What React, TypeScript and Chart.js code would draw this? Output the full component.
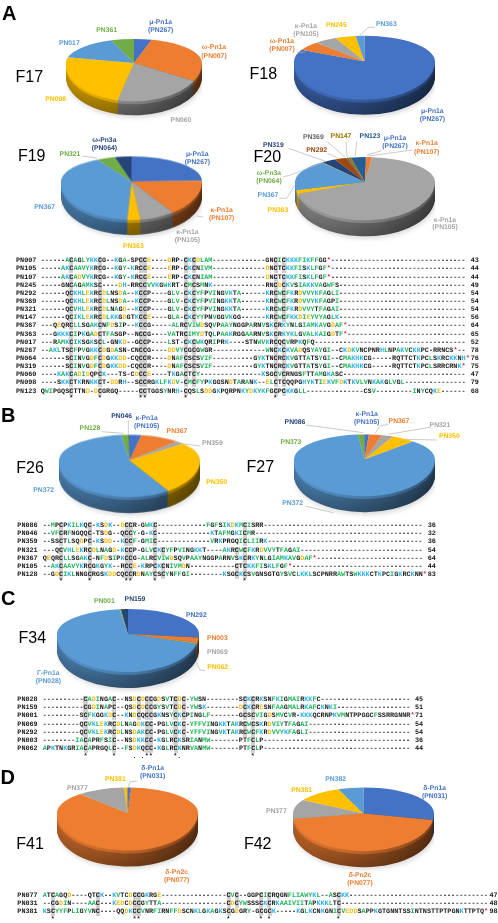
import React, { useEffect, useRef } from "react";
import { Chart, registerables } from "chart.js";

Chart.register(...registerables);

const BLUE = "#4472C4", ORANGE = "#ED7D31", GRAY = "#A5A5A5", GOLD = "#FFC000", SKY = "#5B9BD5", GREEN = "#70AD47";
const NAVY = "#264478", BROWN = "#9E480E", DGRAY = "#636363", DGOLD = "#997300", STEEL = "#255E91";

const f17Labels = ["PN267", "PN007", "PN060", "PN098", "PN017", "PN361"];
const f17Values = [4.2, 28.6, 21.1, 24.9, 15.8, 5.4];
const f17Colors = [BLUE, ORANGE, GRAY, GOLD, SKY, GREEN];

const f18Labels = ["PN267", "PN007", "PN105", "PN245", "PN363"];
const f18Values = [82.5, 5.6, 5.2, 4.7, 2];
const f18Colors = [BLUE, ORANGE, GRAY, GOLD, SKY];

const f19Labels = ["PN267", "PN107", "PN105", "PN363", "PN367", "PN321", "PN064"];
const f19Values = [24.5, 15.5, 8, 3, 41, 4.2, 3.8];
const f19Colors = [BLUE, ORANGE, GRAY, GOLD, SKY, GREEN, NAVY];

const f20Labels = ["PN267", "PN107", "PN105", "PN363", "PN367", "PN064", "PN319", "PN292", "PN369", "PN147", "PN123"];
const f20Values = [0.3, 1.3, 68, 1.5, 17.5, 0.3, 3.3, 2.7, 0.5, 0.6, 3.2];
const f20Colors = [BLUE, ORANGE, GRAY, GOLD, SKY, GREEN, NAVY, BROWN, DGRAY, DGOLD, STEEL];

const f26Labels = ["PN105", "PN367", "PN359", "PN350", "PN372", "PN128", "PN046"];
const f26Values = [2.7, 9, 2, 27, 57.4, 1.7, 0.2];
const f26Colors = [BLUE, ORANGE, GRAY, GOLD, SKY, GREEN, NAVY];

const f27Labels = ["PN105", "PN367", "PN321", "PN350", "PN372", "PN373", "PN086"];
const f27Values = [1, 3, 2.6, 5.5, 86.4, 1.4, 0.1];
const f27Colors = [BLUE, ORANGE, GRAY, GOLD, SKY, GREEN, NAVY];

const f34Labels = ["PN292", "PN003", "PN069", "PN062", "PN028", "PN001", "PN159"];
const f34Values = [26.5, 2, 0.3, 0.3, 69, 0.3, 1.6];
const f34Colors = [BLUE, ORANGE, GRAY, GOLD, SKY, GREEN, NAVY];

const f41Labels = ["PN031", "PN077", "PN377", "PN381"];
const f41Values = [0.8, 87.5, 10.9, 0.8];
const f41Colors = [BLUE, ORANGE, GRAY, GOLD];

const f42Labels = ["PN031", "PN077", "PN377", "PN381", "PN382"];
const f42Values = [27.8, 45, 10.8, 10.6, 5.8];
const f42Colors = [BLUE, ORANGE, GRAY, GOLD, SKY];

// cx, apex y, top y, face bottom y, radius, depth
const PIES: any[] = [
  { labels: f17Labels, values: f17Values, colors: f17Colors, cx: 134, cy: 62.7, top: 38.7, bot: 101, r: 68, d: 14 },
  { labels: f18Labels, values: f18Values, colors: f18Colors, cx: 364.7, cy: 61.7, top: 36, bot: 100, r: 70.5, d: 15 },
  { labels: f19Labels, values: f19Values, colors: f19Colors, cx: 131.7, cy: 181.7, top: 156.7, bot: 220, r: 70.3, d: 15 },
  { labels: f20Labels, values: f20Values, colors: f20Colors, cx: 364.5, cy: 181.7, top: 156.7, bot: 220, r: 70, d: 16 },
  { labels: f26Labels, values: f26Values, colors: f26Colors, cx: 129.5, cy: 460.7, top: 435, bot: 497, r: 70.3, d: 16 },
  { labels: f27Labels, values: f27Values, colors: f27Colors, cx: 364, cy: 459.3, top: 434.3, bot: 496, r: 70.5, d: 16 },
  { labels: f34Labels, values: f34Values, colors: f34Colors, cx: 128, cy: 634, top: 609, bot: 672, r: 71, d: 16 },
  { labels: f41Labels, values: f41Values, colors: f41Colors, cx: 127.5, cy: 813.3, top: 787.7, bot: 851, r: 70.2, d: 16 },
  { labels: f42Labels, values: f42Values, colors: f42Colors, cx: 363.8, cy: 813.3, top: 787.3, bot: 851, r: 70.5, d: 16 },
];

const LABELS: [string, number, number, string][] = [
  ["μ-Pn1a", 160.7, 22.7, BLUE], ["(PN267)", 160.7, 30.7, BLUE], ["ω-Pn1a", 214, 48.3, ORANGE], ["(PN007)", 214, 56.7, ORANGE],
  ["PN361", 106.7, 30.7, GREEN], ["PN017", 69.3, 43.7, SKY], ["PN098", 55.7, 100, GOLD], ["PN060", 181, 120.7, GRAY],
  ["κ-Pn1a", 306, 26.7, GRAY], ["(PN105)", 306, 34.7, GRAY], ["PN245", 336.3, 25.7, GOLD], ["PN363", 386.3, 24.7, SKY],
  ["ω-Pn1a", 282, 42.3, ORANGE], ["(PN007)", 282, 50, ORANGE], ["μ-Pn1a", 432.3, 111.7, BLUE], ["(PN267)", 432.3, 120, BLUE],
  ["ω-Pn3a", 104.3, 140.7, NAVY], ["(PN064)", 104.3, 149, NAVY], ["PN321", 70, 154.7, GREEN], ["μ-Pn1a", 197.3, 155, BLUE], ["(PN267)", 197.3, 163.3, BLUE],
  ["κ-Pn1a", 221.7, 210.7, ORANGE], ["(PN107)", 221.7, 219, ORANGE], ["κ-Pn1a", 187.3, 232.7, GRAY], ["(PN105)", 187.3, 241, GRAY],
  ["PN363", 133.3, 247.3, GOLD], ["PN367", 44.7, 208, SKY],
  ["PN319", 273.3, 145.7, NAVY], ["PN369", 313.3, 138.3, DGRAY], ["PN147", 341, 137.3, DGOLD], ["PN123", 370, 137.3, STEEL],
  ["μ-Pn1a", 395, 139, BLUE], ["(PN267)", 395, 147.3, BLUE], ["κ-Pn1a", 426.7, 144.3, ORANGE], ["(PN107)", 426.7, 152.7, ORANGE],
  ["PN292", 316.7, 151, BROWN], ["ω-Pn3a", 269, 174, GREEN], ["(PN064)", 269, 182.3, GREEN], ["PN367", 268, 196, SKY], ["PN363", 278, 211.3, GOLD],
  ["κ-Pn1a", 445, 220.7, GRAY], ["(PN105)", 445, 228.3, GRAY],
  ["PN046", 121.7, 416.7, NAVY], ["κ-Pn1a", 146.7, 419.3, BLUE], ["(PN105)", 146.7, 427.3, BLUE], ["PN128", 90, 429.3, GREEN], ["PN367", 177, 431.7, ORANGE],
  ["PN359", 212.3, 443.7, GRAY], ["PN350", 216.7, 482.7, GOLD], ["PN372", 43.7, 490.7, SKY],
  ["PN086", 295, 423, NAVY], ["κ-Pn1a", 366.7, 414.7, BLUE], ["(PN105)", 366.7, 422.7, BLUE], ["PN367", 399, 422.3, ORANGE], ["PN321", 440, 425.7, GRAY],
  ["PN350", 449.3, 437.3, GOLD], ["PN373", 291, 443.3, GREEN], ["PN372", 292.7, 504.3, SKY],
  ["PN001", 104.3, 602.3, GREEN], ["PN159", 135, 600, NAVY], ["PN292", 196.3, 615.7, BLUE], ["PN003", 217.3, 638.7, ORANGE], ["PN069", 217.3, 652.7, GRAY],
  ["PN062", 217.7, 667.7, GOLD], ["Γ-Pn1a", 48.3, 674, SKY], ["(PN028)", 48.3, 682, SKY],
  ["PN381", 115.3, 780, GOLD], ["δ-Pn1a", 152.7, 769, BLUE], ["(PN031)", 152.7, 777, BLUE], ["PN377", 77.3, 789, GRAY], ["δ-Pn2c", 176.7, 873.3, ORANGE], ["(PN077)", 176.7, 881.3, ORANGE],
  ["PN382", 335.7, 780, SKY], ["δ-Pn1a", 434.7, 789, BLUE], ["(PN031)", 434.7, 797, BLUE], ["PN381", 301.7, 790.7, GOLD], ["PN377", 276.3, 812, GRAY],
  ["δ-Pn2c", 360, 876, ORANGE], ["(PN077)", 360, 884.3, ORANGE],
];

const FIG_TITLES: [string, number, number][] = [
  ["F17", 29.3, 76.7], ["F18", 263.3, 74], ["F19", 31.7, 155.7], ["F20", 267.3, 156.7], ["F26", 30, 468.3],
  ["F27", 260.3, 467.3], ["F34", 32.3, 638.3], ["F41", 30, 844.3], ["F42", 257.7, 844.3],
];
const PANELS: [string, number, number][] = [["A", 9.3, 12.5], ["B", 8.3, 415], ["C", 8.3, 598.3], ["D", 7.8, 776.7]];

const LEADERS: string[] = [
  "360,35 368,27.7 375,27", "296.7,52.3 305,52.3", "82.7,156 97,158", "196.7,216 203.3,217",
  "288.3,148.3 326.7,161.7", "327.3,141.7 345,157", "346,141.7 347,156.7", "356.7,141.7 355.3,156", "381.7,150.7 366.7,155",
  "412.3,150 368.3,156", "327.3,153.3 338.3,158.3", "283.3,176.7 288.3,175.7 321.7,163.3", "279.3,198.3 286.7,198.3 295,185",
  "128.3,420 128.3,435", "101.7,431.7 123.3,433.3", "180,443.3 200,446",
  "306,425 363.3,432.7", "388.3,424.3 380,426 375,433.3", "430,427.3 388.3,434.3", "436.7,440 405,439.3", "305,506 333.3,512.7",
  "196.7,663.3 200,670 205,670.7", "136.7,781 130,781.7 128.3,787.7",
];

const blockANames = ["PN007", "PN105", "PN107", "PN245", "PN292", "PN369", "PN321", "PN147", "PN367", "PN363", "PN017", "PN267", "PN064", "PN319", "PN060", "PN098", "PN123"];
const blockASeqs = [
  "------ACAGLYKKCG--KGA-SPCCE----DRP-CKCDLAM-------------GNCICKKKFIKFFGG*",
  "-----AKCAAVYKRCG--KGY-KRCCE----ERP-CKCNIVM-------------DNCTCKKFISKLFGF*",
  "-----AKCADVYKRCG--KGY-KRCCE----ERP-CKCNIAM-------------DNCTCKKFISKLFGF*",
  "-----GNCAGAMKSC----DH-RRCCVVKGWKRT-CMCSMNK-------------RNCDCKVSIAKKVAGWFS",
  "------QCKHLEKRCDLNSDA--KCCP----GLV-CKCYFPVINGVKTA------KRCWCFKRDVVYKFAGLI",
  "------QCKHLEKRCDLNSDA--KCCP----GLV-CKCYFPVINGKKTA------KRCWCFKRDVVYKFAGPI",
  "------QCVHLEKRCDLNAGD--KCCP----GLV-CKCYFPVINGKKTA------KRCWCFKRDVVYTFAGAI",
  "------QCIKLEKRCDLKKGDGTKCCE----GLA-CKCYYPNVGGVKGG------KRCWCFKKDIEYVYAGLK",
  "---QEQRCLLSGAKCNFDSIP--KCCG-----ALRCVIWDSQVPAAYNGGPARNVSKCRKYNLGIAMKAVGDAF*",
  "---GKKKCIPKGADCTFASGP--NCCG----VATRCIMYDTQLPAAKRGGAARNVSKCRKYKLGVALKAIGDTF*",
  "---RAMKCIKSGKSCL-GNKD--GCCP----LST-CKCWKQRIPRK----STNWVKRCQCVRPKQFQ",
  "--AKLTSCFPVGKKCDGDASN-CNCCG----DDVYCGCGWGR-------------WNCKCKVADQSYAYGI--CKDKVNCPNRHLNPAKVCKKPC-RRNCS*",
  "------SCINVGDFCDGKKDD-CQCCR----DNAFCSCSVIF----------GYKTNCRCKVGTTATSYGI--CMAKHKCG-----RQTTCTKPCLSKRCKKNH*",
  "------SCINVGDFCDGKKDD-CQCCR----DNAFCSCSVIF----------GYKTNCRCKVGTTATSYGI--CMAKHKCG-----RQTTCTKPCLSRRCRNK*",
  "----KAKCADIDQPCK---TS-CDCCE----TKGACTCY---------------KSGCVCRNGSFTTAMGKASC",
  "----SKKCTKRNKKCT-DDRH--SCCRGKLFKDV-CMCFYPKGGSNDTARANK--ELCTCQQPGHYKTIEKVFDKTKVLVNKAKGLVGL",
  "QWIPGQSCTTND-DCGRGQ-----CCTGGSYNRH-CQSLSDDGKPQRPNKYDKYKFGCPCKKGLL--------------CSV---------INYCQKE",
];
const blockANumbers = ["43", "44", "44", "49", "54", "54", "54", "56", "64", "65", "52", "78", "76", "75", "47", "79", "68"];
const blockAStars = [7, 14, 24, 25, 35, 57];
const blockAShaded = [7, 14, 24, 25, 35, 37, 57, 59];

const blockBNames = ["PN086", "PN046", "PN359", "PN321", "PN367", "PN105", "PN128"];
const blockBSeqs = [
  "--MPCPKILKQC-KSDK--DCCR-GWKC------------FGFSIKDKMCISRR",
  "--VFCRFNGQQC-TSDG--QCCY-G-KC-------------KTAFMGKICMR",
  "--SSCTLSQDPC-KSDD--KCCF-GMIC-------------VRKPRGQICLIIRK",
  "---QCVHLEKRCDLNAGD-KCCP-GLVCKCYFPVINGKKT----AKRCWCFKRDVVYTFAGAI",
  "QEQRCLLSGAKC-NFDSIPKCCG-ALRCVIWDSQVPAAYNGGPARNVSKCRKYNLGIAMKAVGDAF*",
  "--AKCAAVYKRCGKGYK--RCCE-KRPCKCNIVMDN-----------CTCKKFISKLFGF*",
  "--GDCIKLNNGCRGSKDDCQCCRDNAYCSCYNFFGI--------KSGCKCSVGNSGTGYSVCLKKLSCPNRRAWTSWKKKCTKPCIGKRCKNN*",
];
const blockBNumbers = ["36", "32", "36", "54", "64", "44", "83"];
const blockBStars = [4, 11, 20, 21, 27, 49];
const blockBShaded = [4, 11, 20, 21, 27, 29, 47, 49];

const blockCNames = ["PN028", "PN159", "PN001", "PN069", "PN292", "PN003", "PN062"];
const blockCSeqs = [
  "----------CADINGAC--NSDCDCCGDSVTCDC-YWSN--------SCKCRKSNFKIGMAIRKKFC",
  "----------CGDINAPC--QSDCDCCGYSVTCDC-YWSK--------DCKCRESNFAAGMALRKAFCKNKI",
  "---------SCFKGGKDC--KNDCQCCGKNSYCKCPINGLF-------GCSCVIGDSMVCVR-KKKQCRNPKVMNTPPGGCFSSRRGNNR*",
  "---------QCVKLEKRCDLNAGDKCC-PGLVCKC-YFFVINGKKTAKRCWCSKRDVIYTFAGAI",
  "---------QCVKLEKRCDLNSDAKCC-PGLVCKC-YFFVINGVKTAKRCWCFKRDVVYKFAGLI",
  "--------IACAPRFSIC--NSDKKCC-KGLRCKSRIANMW-------PTFCLP",
  "APKTNKGRIACAPRGQLC--FSDKQCC-KGLRCKNRVANMW-------PTFCLP",
];
const blockCNumbers = ["45", "51", "71", "54", "54", "36", "44"];
const blockCStars = [10, 17, 25, 26, 32, 51];
const blockCDots = [22, 24, 33];
const blockCShaded = [10, 17, 23, 25, 26, 32, 34, 49, 51];

const blockDNames = ["PN077", "PN031", "PN381"];
const blockDSeqs = [
  "ATCAGQD----QTCK--KVTCDCCGKRGE----------------CVC--GGPCICRQGNFLIAWYKL--ASCKK",
  "--CGDIN----AAC---KEDCDCCGYTTA----------------CDCYWSSSCKCRKAAIVIITAPKKKLTC",
  "KSCYYFPLIGYVNC----QQDKCCVNRFIRNFFDSCNKLGKAGKSCGDGRY-GCGCK-----KGLKCNKGNICVEDDSAPPKGTGNNTSSINTNSTTPTPGNKTTPTQ*",
];
const blockDNumbers = ["47", "48", "98"];
const blockDStars = [2, 22, 23, 45, 53, 55, 72];
const blockDShaded = [2, 13, 22, 23, 45, 47, 53, 55, 72];

const BLOCKS: any[] = [
  { names: blockANames, seqs: blockASeqs, nums: blockANumbers, stars: blockAStars, dots: [], shaded: blockAShaded, y: 261.2, step: 8.15, xName: 16, xSeq: 40.7, xNum: 470.7, width: 104, starY: 399.3 },
  { names: blockBNames, seqs: blockBSeqs, nums: blockBNumbers, stars: blockBStars, dots: [], shaded: blockBShaded, y: 526, step: 8.17, xName: 17.3, xSeq: 42.7, xNum: 427.7, width: 93, starY: 582.3 },
  { names: blockCNames, seqs: blockCSeqs, nums: blockCNumbers, stars: blockCStars, dots: blockCDots, shaded: blockCShaded, y: 700, step: 8.2, xName: 17.3, xSeq: 42.7, xNum: 415, width: 90, starY: 757 },
  { names: blockDNames, seqs: blockDSeqs, nums: blockDNumbers, stars: blockDStars, dots: [], shaded: blockDShaded, y: 895.7, step: 8.15, xName: 17.3, xSeq: 42.7, xNum: 489.5, width: 109, starY: 919.7 },
];

const MONO = "'Liberation Mono', monospace";
const SANS = "'Liberation Sans', Arial, sans-serif";

function residueColor(c: string): string {
  if ("KH".includes(c)) return "#2FB4EA";
  if ("DE".includes(c)) return "#F6BE1E";
  if ("AVILFWMY".includes(c)) return "#22B45C";
  if (c === "*") return "#E8202A";
  return "#1a1a1a";
}

function shade(hex: string, f: number): string {
  const n = parseInt(hex.slice(1), 16);
  const ch = (v: number) => Math.max(0, Math.min(255, Math.round(v * f)));
  return `rgb(${ch((n >> 16) & 255)},${ch((n >> 8) & 255)},${ch(n & 255)})`;
}

function makePiePlugin(kTop: number, kBot: number, depth: number) {
  return {
    id: "pie3d",
    beforeDatasetsDraw(chart: any) {
      const { ctx, width, height } = chart;
      const arcs = chart.getDatasetMeta(0).data;
      const { x: cx, y: cy, outerRadius: r } = arcs[0];
      ctx.save();
      ctx.filter = "blur(2.5px)";
      ctx.fillStyle = "rgba(0,0,0,0.16)";
      ctx.beginPath();
      ctx.ellipse(cx + 1, cy + depth + 2, r, r * kBot, 0, 0, Math.PI * 2);
      ctx.fill();
      ctx.restore();
      for (let dy = depth; dy >= 1; dy--) {
        const band = dy <= 3;
        for (const arc of arcs) {
          const base = arc.options.backgroundColor;
          const g = ctx.createLinearGradient(cx - r, 0, cx + r, 0);
          const depthFade = 1 - (0.18 * dy) / depth;
          g.addColorStop(0, shade(base, (band ? 1.0 : 0.82) * depthFade));
          g.addColorStop(0.55, shade(base, (band ? 0.78 : 0.58) * depthFade));
          g.addColorStop(1, shade(base, (band ? 0.55 : 0.4) * depthFade));
          ctx.save();
          ctx.beginPath();
          ctx.rect(0, cy, width, height - cy);
          ctx.clip();
          ctx.translate(0, cy + dy);
          ctx.scale(1, kBot);
          ctx.translate(0, -cy);
          ctx.beginPath();
          ctx.moveTo(cx, cy);
          ctx.arc(cx, cy, r, arc.startAngle, arc.endAngle);
          ctx.closePath();
          ctx.fillStyle = g;
          ctx.fill();
          ctx.restore();
        }
      }
      ctx.save();
      ctx.beginPath();
      ctx.rect(0, 0, width, cy + 0.4);
      ctx.clip();
      ctx.translate(0, cy);
      ctx.scale(1, kTop);
      ctx.translate(0, -cy);
    },
    afterDatasetsDraw(chart: any) {
      const { ctx, width, height } = chart;
      const meta = chart.getDatasetMeta(0);
      const { y: cy } = meta.data[0];
      ctx.restore();
      ctx.save();
      ctx.beginPath();
      ctx.rect(0, cy, width, height - cy);
      ctx.clip();
      ctx.translate(0, cy);
      ctx.scale(1, kBot);
      ctx.translate(0, -cy);
      meta.controller.draw();
      ctx.restore();
    },
  };
}

function Pie({ spec }: { spec: any }) {
  const ref = useRef<HTMLCanvasElement | null>(null);
  useEffect(() => {
    const chart = new Chart(ref.current as HTMLCanvasElement, {
      type: "pie",
      data: {
        labels: spec.labels,
        datasets: [{ data: spec.values, backgroundColor: spec.colors, borderWidth: 0, clip: false } as any],
      },
      options: {
        animation: false,
        responsive: false,
        devicePixelRatio: 1,
        layout: { padding: 0 },
        plugins: { legend: { display: false }, tooltip: { enabled: false } },
      } as any,
      plugins: [makePiePlugin((spec.cy - spec.top) / spec.r, (spec.bot - spec.cy) / spec.r, spec.d)],
    });
    return () => chart.destroy();
  }, [spec]);
  const size = spec.r * 2;
  return (
    <canvas
      ref={ref}
      width={size}
      height={size}
      style={{ position: "absolute", left: spec.cx - spec.r, top: spec.cy - spec.r, width: size, height: size }}
    />
  );
}

function Residues({ seq, shaded, width }: { seq: string; shaded: number[]; width: number }) {
  const full = seq.padEnd(width, "-");
  const runs: { text: string; color: string; bg: boolean }[] = [];
  for (let i = 0; i < full.length; i++) {
    const c = full[i];
    const bg = c === "C" && shaded.includes(i);
    const color = residueColor(c);
    const last = runs[runs.length - 1];
    if (last && last.color === color && last.bg === bg) last.text += c;
    else runs.push({ text: c, color, bg });
  }
  return (
    <>
      {runs.map((run, i) => (
        <span key={i} style={{ color: run.color, background: run.bg ? "#cfcfcf" : "transparent" }}>
          {run.text}
        </span>
      ))}
    </>
  );
}

const monoRow: React.CSSProperties = {
  position: "absolute",
  fontFamily: MONO,
  fontWeight: 700,
  fontSize: 6.8,
  lineHeight: "8.2px",
  whiteSpace: "pre",
  color: "#1a1a1a",
  textRendering: "geometricPrecision",
  transform: "translateY(-50%)",
};

function Block({ b }: { b: any }) {
  const starRow = Array.from({ length: b.width }, (_, i) => (b.stars.includes(i) ? "*" : b.dots.includes(i) ? "." : " ")).join("");
  return (
    <>
      {b.names.map((name: string, i: number) => (
        <React.Fragment key={name}>
          <div style={{ ...monoRow, left: b.xName, top: b.y + i * b.step }}>{name}</div>
          <div style={{ ...monoRow, left: b.xSeq, top: b.y + i * b.step }}>
            <Residues seq={b.seqs[i]} shaded={b.shaded} width={b.width} />
          </div>
          <div style={{ ...monoRow, left: b.xNum, top: b.y + i * b.step }}>{b.nums[i]}</div>
        </React.Fragment>
      ))}
      <div style={{ ...monoRow, left: b.xSeq, top: b.starY }}>{starRow}</div>
    </>
  );
}

export default function App() {
  return (
    <div style={{ position: "absolute", left: 0, top: 0, width: 498, height: 923, background: "#fff", overflow: "hidden" }}>
      {PIES.map((p, i) => (
        <Pie key={i} spec={p} />
      ))}
      <svg width={498} height={923} style={{ position: "absolute", left: 0, top: 0 }}>
        {LEADERS.map((pts, i) => (
          <polyline key={i} points={pts} fill="none" stroke="#b5b5b5" strokeWidth={0.7} />
        ))}
      </svg>
      {LABELS.map(([t, x, y, c], i) => (
        <div
          key={i}
          style={{
            position: "absolute", left: x, top: y, transform: "translate(-50%,-50%)", fontFamily: SANS, fontWeight: 700,
            fontSize: 6.8, lineHeight: "8px", whiteSpace: "nowrap", color: c, textRendering: "geometricPrecision",
          }}
        >
          {t}
        </div>
      ))}
      {FIG_TITLES.map(([t, x, y]) => (
        <div key={t} style={{ position: "absolute", left: x, top: y, transform: "translate(-50%,-50%)", fontFamily: SANS, fontSize: 16, lineHeight: "18px", color: "#000", whiteSpace: "nowrap" }}>
          {t}
        </div>
      ))}
      {PANELS.map(([t, x, y]) => (
        <div key={t} style={{ position: "absolute", left: x, top: y, transform: "translate(-50%,-50%)", fontFamily: SANS, fontWeight: 700, fontSize: 20, lineHeight: "22px", color: "#000" }}>
          {t}
        </div>
      ))}
      {BLOCKS.map((b, i) => (
        <Block key={i} b={b} />
      ))}
    </div>
  );
}
